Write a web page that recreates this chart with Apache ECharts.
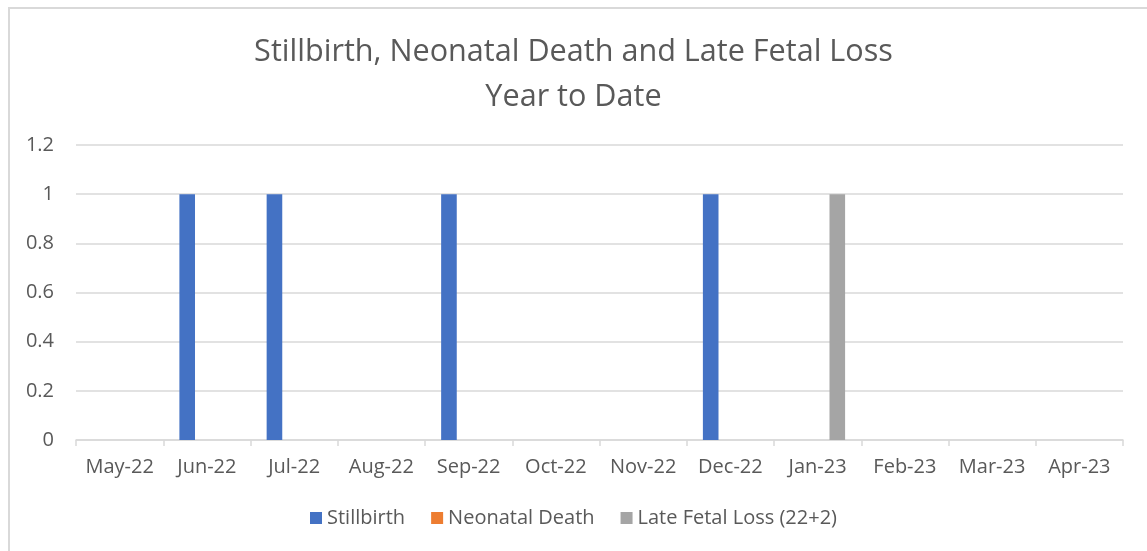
<!DOCTYPE html>
<html>
<head>
<meta charset="utf-8">
<script src="https://cdn.jsdelivr.net/npm/echarts@6/dist/echarts.min.js"></script>
<style>html,body{margin:0;padding:0;background:#fff;}#c{width:1147px;height:551px;}</style>
</head>
<body>
<div id="c"></div>
<script>
const categories = ['May-22','Jun-22','Jul-22','Aug-22','Sep-22','Oct-22','Nov-22','Dec-22','Jan-23','Feb-23','Mar-23','Apr-23'];
const stillbirth = [0,1,1,0,1,0,0,1,0,0,0,0];
const neonatalDeath = [0,0,0,0,0,0,0,0,0,0,0,0];
const lateFetalLoss = [0,0,0,0,0,0,0,0,1,0,0,0];
const yTicks = {min:0, max:1.2, interval:0.2};

const FONT = '"Open Sans", sans-serif';
const TXT = '#595959';
const chart = echarts.init(document.getElementById('c'), null, {renderer:'canvas'});
chart.setOption({
  animation:false,
  backgroundColor:'#fff',
  graphic:[{type:'rect', shape:{x:9,y:8,width:1300,height:700}, style:{fill:'none', stroke:'#d9d9d9', lineWidth:2}, silent:true}],
  title:{
    text:'Stillbirth, Neonatal Death and Late Fetal Loss\nYear to Date',
    left:'center', top:25,
    textStyle:{fontFamily:FONT, fontSize:30.6, fontWeight:'normal', color:TXT, lineHeight:45}
  },
  legend:{
    bottom:18, left:'center',
    itemWidth:12, itemHeight:12, itemGap:26,
    icon:'rect',
    textStyle:{fontFamily:FONT, fontSize:20, color:TXT},
    data:['Stillbirth','Neonatal Death','Late Fetal Loss (22+2)']
  },
  grid:{left:76, right:24, top:145, bottom:111, containLabel:false},
  xAxis:{
    type:'category', data:categories, boundaryGap:true,
    axisLine:{lineStyle:{color:'#d9d9d9', width:1.5}},
    axisTick:{show:true, length:6, lineStyle:{color:'#d9d9d9', width:1.5}},
    axisLabel:{fontFamily:FONT, fontSize:20, color:TXT, margin:17, interval:0}
  },
  yAxis:{
    type:'value', min:yTicks.min, max:yTicks.max, interval:yTicks.interval,
    axisLine:{show:false}, axisTick:{show:false},
    splitLine:{lineStyle:{color:'#d9d9d9', width:1.5}},
    axisLabel:{fontFamily:FONT, fontSize:20, color:TXT, margin:22}
  },
  series:[
    {name:'Stillbirth', type:'bar', data:stillbirth, itemStyle:{color:'#4472C4'}, barGap:'26%', barCategoryGap:'37%'},
    {name:'Neonatal Death', type:'bar', data:neonatalDeath, itemStyle:{color:'#ED7D31'}},
    {name:'Late Fetal Loss (22+2)', type:'bar', data:lateFetalLoss, itemStyle:{color:'#A5A5A5'}}
  ]
});
</script>
</body>
</html>
